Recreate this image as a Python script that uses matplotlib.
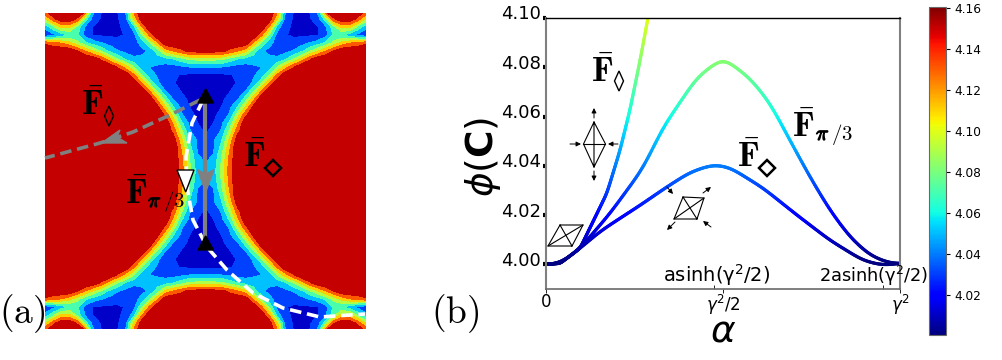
import numpy as np
import matplotlib
matplotlib.use("Agg")
import matplotlib.pyplot as plt
import matplotlib.patheffects as pe
from matplotlib.collections import LineCollection
from matplotlib.colors import Normalize
from matplotlib.patches import Polygon
from matplotlib.transforms import ScaledTranslation
from matplotlib.cm import ScalarMappable

# curves
alpha_diamond = [0, .04, .096, .153, .209, .266, .341, .407, .472, .52, .613, .709, .802, .895, .952, 1.0]
phi_diamond = [4.0, 4.0004, 4.0065, 4.0134, 4.0187, 4.024, 4.0314, 4.0374, 4.0405, 4.0393, 4.031, 4.020, 4.0098, 4.0016, 3.9996, 4.0004]
alpha_pi3 = [0, .04, .096, .181, .274, .331, .427, .5, .576, .633, .689, .746, .802, .859, .915, .972, 1.0]
phi_pi3 = [4.0, 4.0004, 4.0065, 4.0207, 4.039, 4.0557, 4.076, 4.0838, 4.0756, 4.0654, 4.0504, 4.0354, 4.022, 4.011, 4.0037, 4.0004, 4.0004]
alpha_loz = [0, .04, .096, .172, .209, .237, .266, .288]
phi_loz = [4.0, 4.0004, 4.0065, 4.0289, 4.0463, 4.0626, 4.083, 4.10]

y_ticks = [4.00, 4.02, 4.04, 4.06, 4.08, 4.10]
cbar_ticks = [4.02, 4.04, 4.06, 4.08, 4.10, 4.12, 4.14, 4.16]
x_ticks = [0, 0.5, 1]
x_tick_labels = ["0", r"$\gamma^2/2$", r"$\gamma^2$"]
asinh_ticks = [0.475, 0.951]

# panel (a) values, in thousandths above 4, for the
# upper right quarter (centre first); rows stop where the red lobe takes over
map_rows = [
    [44, 50, 86, 130],
    [40, 47, 82, 127],
    [33, 41, 78, 123],
    [28, 37, 66, 115],
    [22, 36, 57, 103, 150],
    [17, 26, 42, 84, 132],
    [14, 20, 36, 64, 114],
    [12, 16, 27, 43, 90, 135],
    [12, 15, 20, 35, 60, 101, 147],
    [11, 13, 17, 25, 38, 70, 113, 159],
    [11, 11, 13, 19, 28, 40, 77, 120, 161],
    [13, 13, 14, 16, 21, 30, 43, 78, 122, 164],
    [17, 17, 17, 18, 24, 30, 38, 47, 80, 124, 164],
    [41, 41, 40, 36, 32, 32, 36, 40, 50, 82, 110, 137, 161],
    [86, 86, 85, 72, 60, 52, 52, 47, 45, 44, 57, 81, 108, 136, 154],
    [148, 148, 146, 134, 121, 106, 68, 44, 34, 32, 34, 42, 55, 77, 98, 119, 140, 158],
    [165, 165, 165, 165, 165, 154, 116, 77, 46, 32, 25, 28, 33, 41, 49, 64, 86, 106, 118, 126, 135],
    [165, 165, 165, 165, 165, 165, 162, 124, 76, 30, 21, 17, 16, 17, 19, 33, 62, 60, 48, 34, 25],
    [165, 165, 165, 165, 165, 165, 165, 161, 115, 50, 24, 17, 15, 17, 19, 35, 72, 105, 105, 75, 48],
    [165, 165, 165, 165, 165, 165, 165, 165, 153, 101, 30, 18, 16, 18, 28, 70, 136, 156, 155, 134, 99],
    [165, 165, 165, 165, 165, 165, 165, 165, 165, 121, 40, 20, 17, 20, 45, 144, 165, 165, 165, 165, 141],
]

W, H = 1002, 360
fig = plt.figure(figsize=(W / 100, H / 100), dpi=100)

def box(x0, y0, x1, y1):
    return [x0 / W, 1 - y1 / H, (x1 - x0) / W, (y1 - y0) / H]

# panel (a): mirror the quarter into the full map
quad = np.array([r + [165] * (21 - len(r)) for r in map_rows])
phi_quad = 4 + quad / 1000
xs = np.arange(0, 161, 8.0)
X = np.r_[-xs[:0:-1], xs]
phi_map = np.block([[phi_quad[:0:-1, :0:-1], phi_quad[:0:-1]], [phi_quad[:, :0:-1], phi_quad]])

ax_map = fig.add_axes(box(45, 13, 366, 329))
ax_map.contourf(X, X, np.clip(phi_map, 4.0, 4.1599), levels=np.arange(4.0, 4.161, 0.02), cmap="jet")
ax_map.set_xlim(-160.5, 160.5)
ax_map.set_ylim(-158, 158)
ax_map.axis("off")

# panel (b)
ax = fig.add_axes(box(546, 18, 900, 289))
norm = Normalize(4.0005, 4.1603)
for a_vals, p_vals in [(alpha_loz, phi_loz), (alpha_pi3, phi_pi3), (alpha_diamond, phi_diamond)]:
    aa = np.linspace(0, a_vals[-1], 300)
    pp = np.interp(aa, a_vals, p_vals)
    # light smoothing so the read points do not show as corners
    k = 6
    for _ in range(2):
        pad = np.r_[np.full(k, pp[0]), pp, pp[-1] + (pp[-1] - pp[-k - 1:-1])[::-1]]
        pp = np.convolve(pad, np.ones(2 * k + 1) / (2 * k + 1), mode="same")[k:-k]
    segs = np.stack([np.column_stack([aa[:-1], pp[:-1]]), np.column_stack([aa[1:], pp[1:]])], axis=1)
    lc = LineCollection(segs, cmap="jet", norm=norm, linewidths=2.3, capstyle="round")
    lc.set_array((pp[:-1] + pp[1:]) / 2)
    ax.add_collection(lc)
ax.set_xlim(0, 1)
ax.set_ylim(3.99, 4.10)
ax.set_yticks(y_ticks, [f"{v:.2f}" for v in y_ticks], fontsize=13)
ax.set_xticks(x_ticks, x_tick_labels, fontsize=12)
ax.set_xticks(asinh_ticks, minor=True)
ax.tick_params(axis="y", length=2.2, width=3, pad=1.2)
ax.tick_params(axis="x", length=3, width=0.6, pad=0)
ax.tick_params(axis="x", which="minor", direction="in", length=3, width=0.6)
for lab in ax.get_yticklabels():
    lab.set_transform(lab.get_transform() + ScaledTranslation(0, 4 / 72, fig.dpi_scale_trans))
ax.spines["top"].set_linewidth(1.0)
ax.spines["left"].set_color("gray")
ax.spines["left"].set_linewidth(1.5)
ax.spines["right"].set_color("gray")
ax.spines["right"].set_linewidth(1.5)
ax.spines["bottom"].set_color("dimgray")
ax.spines["bottom"].set_linewidth(1.2)

# colorbar
cax = fig.add_axes(box(929, 7, 946, 335))
cb = fig.colorbar(ScalarMappable(norm=norm, cmap="jet"), cax=cax, ticks=cbar_ticks)
cb.ax.tick_params(labelsize=8.7, length=3, width=0.8, pad=3)
cb.ax.set_yticklabels([f"{v:.2f}" for v in cbar_ticks])
cb.outline.set_edgecolor("dimgray")

# overlay in pixel coordinates for labels and sketches
ov = fig.add_axes([0, 0, 1, 1])
ov.set_xlim(0, W)
ov.set_ylim(H, 0)
ov.axis("off")
ov.patch.set_alpha(0)

white_path = np.array([(203, 100), (192, 123), (186, 157), (187, 187), (193, 220), (207, 247), (227, 270), (253, 293), (283, 308), (320, 317), (365, 314)])
ov.plot(*white_path.T, color="white", lw=2.6, dashes=(3.2, 1.6))
gray_path = np.array([(200, 100), (170, 115), (133, 132), (100, 143), (45, 158)])
ov.plot(*gray_path.T, color="gray", lw=2.6, dashes=(3.2, 1.6))
ov.add_patch(Polygon([(101.7, 143), (120, 130), (117, 137), (127, 143)], color="gray", zorder=5))
ov.plot([204.7, 204.7], [97, 238], color="gray", lw=3)
ov.add_patch(Polygon([(197.5, 169.5), (205, 174), (206, 174), (214, 169.5), (205.7, 192)], color="gray", zorder=5))
for tip, base in [(89, 103), (236, 250)]:
    ov.add_patch(Polygon([(205.7, tip), (198, base), (213.5, base)], color="black", zorder=5))
ov.add_patch(Polygon([(177, 170), (194, 170), (185.7, 192)], fc="white", ec="black", lw=1, zorder=5))

def fbar(x, y):
    ov.text(x, y, r"$\bar{\mathbf{F}}$", fontsize=25, math_fontfamily="cm", va="baseline", ha="left", zorder=6)

def sub_pi3(x, y):
    ov.text(x, y, r"$\pi$", fontsize=15, math_fontfamily="cm", zorder=6,
            path_effects=[pe.withStroke(linewidth=0.9, foreground="black")])
    ov.text(x + 15, y, r"$/\mathbf{3}$", fontsize=15, math_fontfamily="cm", zorder=6)

def diamond(x, y, hw, hh, lw):
    ov.add_patch(Polygon([(x, y - hh), (x + hw, y), (x, y + hh), (x - hw, y)], fc="none", ec="black", lw=lw, zorder=6))

fbar(81, 115)
diamond(109, 116, 4.5, 10, 1)
fbar(243, 167)
diamond(273, 168, 8, 8, 1.8)
fbar(125, 204)
sub_pi3(148, 207)
fbar(591, 82)
diamond(619, 81, 4.5, 10, 1)
fbar(792, 137)
sub_pi3(816, 140)
fbar(737, 167)
diamond(767, 168, 8, 8, 1.8)

ov.text(-1, 323, r"$\mathrm{(a)}$", fontsize=27, math_fontfamily="cm")
ov.text(431, 323, r"$\mathrm{(b)}$", fontsize=27, math_fontfamily="cm")
ov.text(663, 282, r"asinh(γ$^2$/2)", fontsize=14)
ov.text(819, 282, r"2asinh(γ$^2$/2)", fontsize=12.8)
ov.text(723, 342, r"$\alpha$", fontsize=27, ha="center")
ov.text(483, 157, r"$\phi(\mathbf{C})$", fontsize=27, rotation=90, ha="center", va="center")

def sketch(pts, lw=0.8):
    p = np.array(pts)
    ov.plot(*p.T, color="black", lw=lw)

def arrow(start, end):
    ov.annotate("", xy=end, xytext=start, arrowprops=dict(arrowstyle="-|>", color="black", lw=0.7, mutation_scale=7, shrinkA=0, shrinkB=0))

sketch([(594, 122), (605.5, 144), (594, 167), (583.5, 144), (594, 122), (594, 167)])
sketch([(583.5, 144), (605.5, 144)])
arrow((594, 118), (594, 108))
arrow((594, 171), (594, 181))
arrow((570, 144), (581, 144))
arrow((618, 144), (608, 144))
sketch([(683, 197), (704, 198), (697, 219), (674, 219), (683, 197), (697, 219)])
sketch([(704, 198), (674, 219)])
arrow((703, 193), (711, 187))
arrow((675, 222), (667, 230))
arrow((667, 187), (673, 194))
arrow((711, 227), (703, 221))
sketch([(560, 225), (583, 225), (572, 246), (548, 246), (560, 225), (572, 246)])
sketch([(583, 225), (548, 246)])

fig.savefig("out.png", dpi=100)
